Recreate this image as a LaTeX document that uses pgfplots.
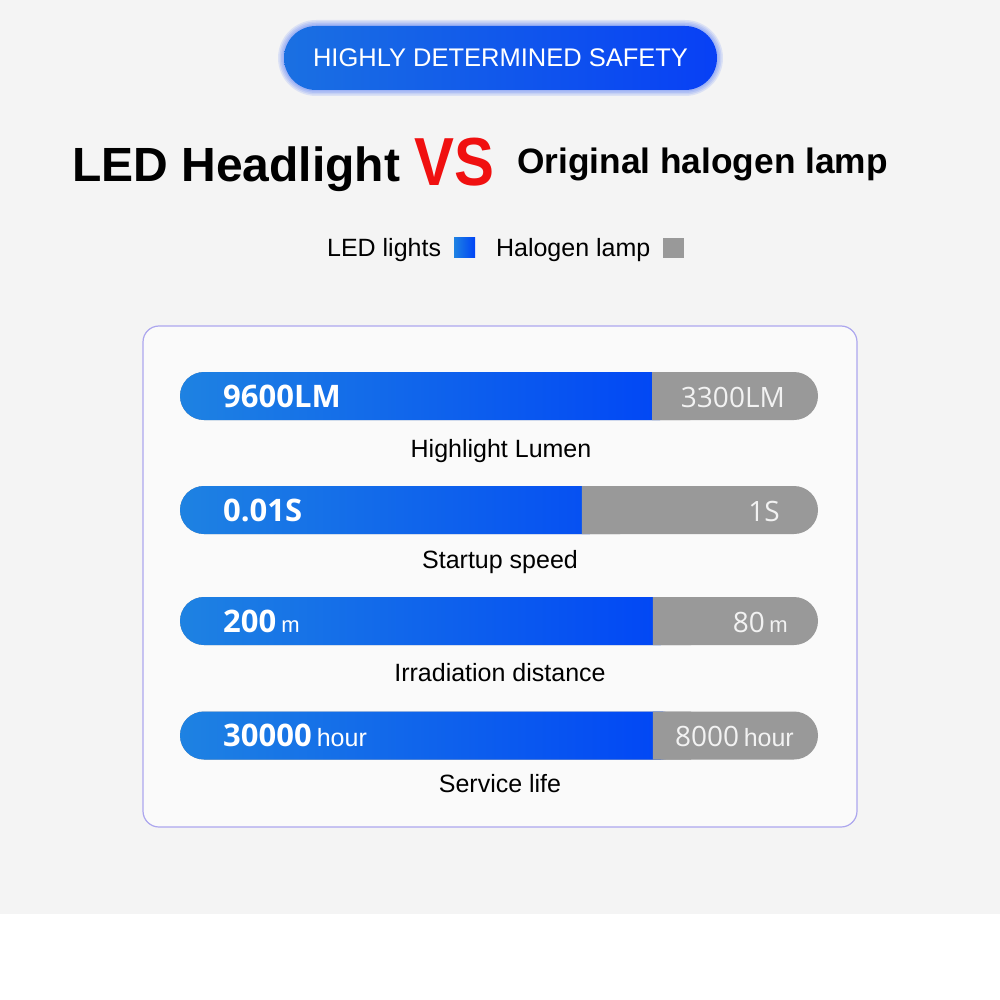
\documentclass[border=0pt]{standalone}
\usepackage{pgfplots}
\usepackage{pgfplotstable}
\pgfplotsset{compat=1.18}
\usepackage{fontspec}
\setmainfont{Liberation Sans}
\newfontfamily\osans{Open Sans}
\definecolor{ledlight}{RGB}{30,130,226}
\definecolor{leddark}{RGB}{0,68,246}
\definecolor{halo}{RGB}{153,153,153}
\definecolor{bg}{RGB}{244,244,244}
\definecolor{boxline}{RGB}{172,166,238}
\definecolor{boxfill}{RGB}{250,250,250}
\definecolor{vsred}{RGB}{240,16,16}
\definecolor{pillL}{RGB}{26,112,226}
\definecolor{pillR}{RGB}{8,64,245}
\definecolor{halotext}{RGB}{242,242,242}
\newcommand{\fs}[1]{\fontsize{#1}{#1}\selectfont}

% bar lengths in percent of the full bar; pos = vertical position
\pgfplotstableread{
pos    led   halo
396    74.0  26.0
510    63.0  37.0
621    74.1  25.9
735.5  74.1  25.9
}\bardata

\pgfplotsset{baraxis/.style={
  at={(180pt,-350pt)}, anchor=north west,
  width=638pt, height=410pt, scale only axis,
  xmin=0, xmax=100, ymin=350, ymax=760, y dir=reverse,
  hide axis, clip=false,
}}

\begin{document}
\begin{tikzpicture}
\begin{scope}[x=1pt,y=-1pt]
\fill[bg] (0,0) rectangle (1000,914);
\fill[white] (0,914) rectangle (1000,1000);
% pill
\foreach \e in {6,4.5,3,1.5}{
  \fill[pillR, opacity=0.10, rounded corners=32pt+\e pt] (284-\e,26-\e) rectangle (717+\e,90+\e);
}
\shade[left color=pillL, right color=pillR, rounded corners=32pt] (284,26) rectangle (717,90);
\node[white, anchor=base, inner sep=0] at (500.5,67) {\fs{25.5}HIGHLY DETERMINED SAFETY};
% title
\node[anchor=base west, inner sep=0] at (72,182) {\fs{48}\bfseries LED Headlight};
\node[anchor=base west, inner sep=0, text=vsred] at (414,186) {\scalebox{0.88}[1]{\fs{68}\bfseries VS}};
\node[anchor=base west, inner sep=0] at (517,174) {\fs{35.3}\bfseries Original halogen lamp};
% panel
\draw[boxline, fill=boxfill, line width=1.2pt, rounded corners=16pt] (143,326) rectangle (857,827);
% labels
\node[anchor=base, inner sep=0] at (501,457) {\fs{25}Highlight Lumen};
\node[anchor=base, inner sep=0] at (500,568) {\fs{25}Startup speed};
\node[anchor=base, inner sep=0] at (500,681) {\fs{25}Irradiation distance};
\node[anchor=base, inner sep=0] at (500,792) {\fs{25}Service life};
\end{scope}

\begin{axis}[baraxis, xbar, bar width=48pt, bar shift=0pt,
  legend plot pos=right,
  legend style={at={(axis description cs:0.509,1.249)}, anchor=center,
    draw=none, fill=none, font=\fs{25}, legend columns=2,
    /tikz/every odd column/.append style={column sep=11pt},
    /tikz/every even column/.append style={column sep=19pt}},
  legend image code/.code={\fill[#1] (0pt,-10pt) rectangle (21pt,10pt);},
]
\addplot[forget plot, fill=halo, draw=none, rounded corners=24pt]
  table[x expr=\thisrow{led}+\thisrow{halo}, y=pos] {\bardata};
\addplot[forget plot, draw=none, left color=ledlight, right color=leddark, rounded corners=24pt]
  table[x expr=\thisrow{led}+5, y=pos] {\bardata};
\addlegendimage{draw=none, left color=ledlight, right color=leddark}
\addlegendentry{LED lights}
\addlegendimage{draw=none, fill=halo}
\addlegendentry{Halogen lamp}
\end{axis}

\begin{axis}[baraxis, xbar stacked, bar width=48pt]
\addplot[draw=none, fill=none] table[x=led, y=pos] {\bardata};
\addplot[draw=none, fill=halo] table[x expr=6, y=pos] {\bardata};
\end{axis}

\begin{scope}[x=1pt,y=-1pt, every node/.style={inner sep=0pt, text=white}]
\node[anchor=base west] at (223,407) {\osans\fs{31}\bfseries 9600LM};
\node[anchor=base east, text=halotext] at (785,407) {\osans\fs{28}3300LM};
\node[anchor=base west] at (223,521) {\osans\fs{31}\bfseries 0.01S};
\node[anchor=base east, text=halotext] at (780,521) {\osans\fs{28}1S};
\node[anchor=base west] at (223,632) {\osans\fs{31}\bfseries 200\,{\rmfamily\mdseries\fs{22}m}};
\node[anchor=base east, text=halotext] at (788,632) {\osans\fs{28}80\,{\rmfamily\fs{22}m}};
\node[anchor=base west] at (223,746.5) {\osans\fs{31}\bfseries 30000\,{\rmfamily\mdseries\fs{25}hour}};
\node[anchor=base east, text=halotext] at (794,746.5) {\osans\fs{28}8000\,{\rmfamily\fs{25}hour}};
\end{scope}
\end{tikzpicture}
\end{document}
